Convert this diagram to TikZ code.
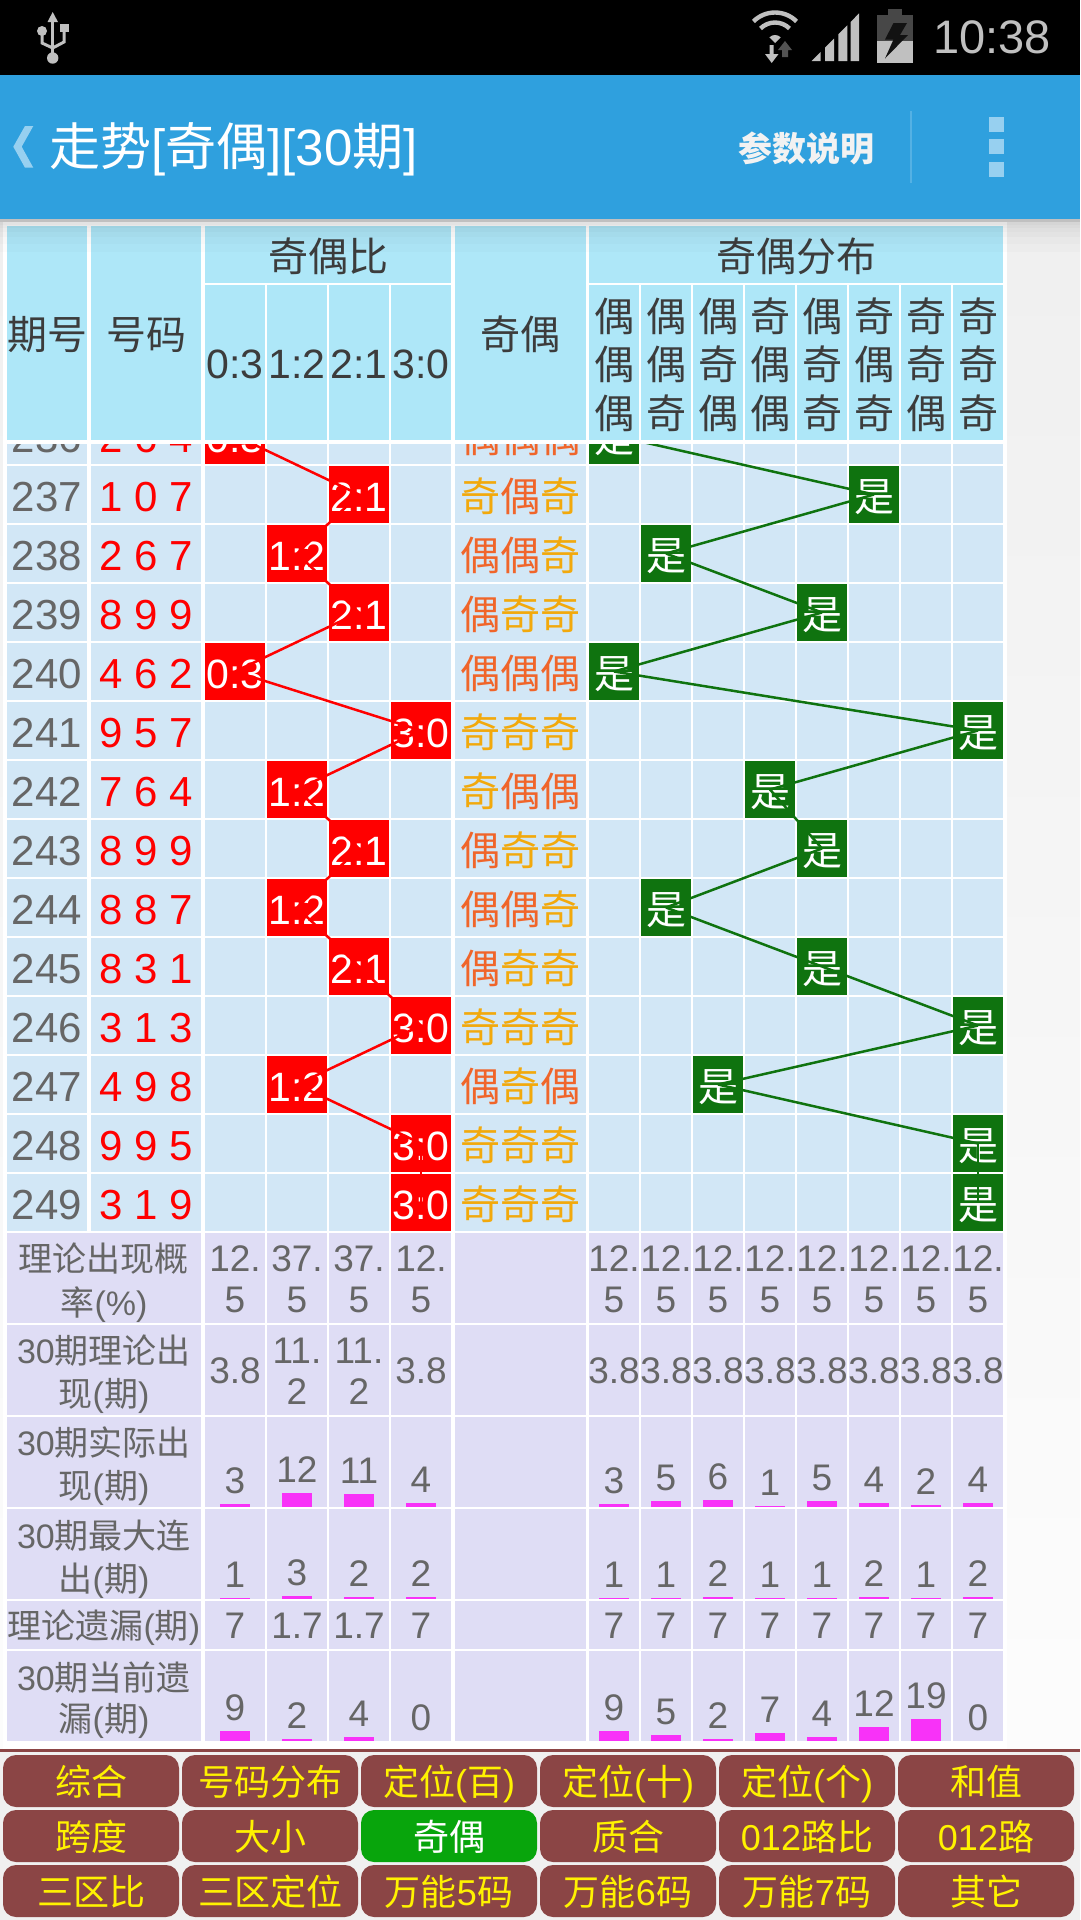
\documentclass[tikz,border=0pt]{standalone}
\usepackage{fontspec}
\setmainfont{Liberation Sans}
\newfontfamily\cjk{Noto Sans CJK SC}
\newcommand\Z[1]{{\cjk #1}}
\definecolor{oddc}{HTML}{F2A90C}
\definecolor{evenc}{HTML}{F0652A}
\definecolor{barblue}{HTML}{2FA0DE}
\definecolor{headc}{HTML}{AEE7F8}
\definecolor{datac}{HTML}{D2E7F6}
\definecolor{statc}{HTML}{DFDDF5}
\definecolor{greenc}{HTML}{0F730F}
\definecolor{magc}{HTML}{F832F8}
\definecolor{btnc}{HTML}{8B4545}
\definecolor{btnon}{HTML}{08A50C}
\definecolor{grayt}{HTML}{666666}
\definecolor{headt}{HTML}{3C3C3C}
\definecolor{iconc}{HTML}{C0C0C0}
\definecolor{pale}{HTML}{97D0F0}
\newcommand\JI{\textcolor{oddc}{\cjk 奇}}
\newcommand\OU{\textcolor{evenc}{\cjk 偶}}
\newcommand\cellbox[8]{%
  \pgfmathsetmacro\cbh{#6-#4}\pgfmathsetmacro\cbd{#5-#6}%
  \pgfmathsetmacro\cbw{#3-#2}\pgfmathsetmacro\cbc{(#2+#3)/2}\pgfmathsetmacro\cbm{(#4+#5)/2}%
  \node[#7,inner sep=0pt,outer sep=0pt,minimum width=\cbw pt,text height=\cbh pt,text depth=\cbd pt] (#1) at (\cbc,\cbm) {#8};}
\newcommand\tline[5]{\node[#4,anchor=base,inner sep=0pt] (#1) at (#2,#3) {#5};}
\newcommand\statbar[6]{% name,x,bottom,height,value,unused
  \ifdim #4pt>0pt \fill[magc] (#2-15,#3-#4) rectangle (#2+15,#3);\fi
  \tline{#1}{#2}{#3-#4-10.5}{stat}{#5}}
\tikzset{
  f40/.style={font=\fontsize{40}{48}\selectfont},
  f42/.style={font=\fontsize{42}{48}\selectfont},
  f41/.style={font=\fontsize{41}{48}\selectfont},
  stat/.style={font=\fontsize{37}{42}\selectfont,text=grayt},
  statlab/.style={font=\fontsize{34}{40}\selectfont,text=grayt},
  head/.style={f40,text=headt},
  headfill/.style={head,fill=headc},
  redline/.style={draw=red,line width=2.5pt},
  greenline/.style={draw=greenc,line width=2.5pt},
  btn/.style={rounded corners=13pt,font=\fontsize{36}{42}\selectfont,text=yellow,fill=btnc},
  btnsel/.style={btn,text=white,fill=btnon},
}
\begin{document}
\begin{tikzpicture}[x=1pt,y=-1pt]
\useasboundingbox (0,0) rectangle (1080,1920);
% page
\shade[top color=black!6,bottom color=black!1] (0,219) rectangle (1080,1752);
\fill[white] (3,222) rectangle (1007,1749);
\fill[black] (0,0) rectangle (1080,75);
\fill[barblue] (0,75) rectangle (1080,219);
% usb icon
\begin{scope}[iconc]
\fill (52.7,12) -- (58,22) -- (47.5,22) -- cycle;
\fill (51.2,20) rectangle (54.2,54);
\fill (52.7,58) circle (5.7);
\fill (42,31) circle (5);
\fill (60,23.5) rectangle (68.5,32);
\draw[line width=3pt] (42,33) -- (42,43) -- (52.7,48);
\draw[line width=3pt] (64,30) -- (64,42) -- (52.7,48);
\end{scope}
% wifi
\begin{scope}[shift={(775,43)},y=1pt,iconc]
\draw[line width=4.4pt] (45:30.5) arc (45:135:30.5);
\draw[line width=4.4pt] (45:20.5) arc (45:135:20.5);
\fill (0,0) -- (45:8) arc (45:135:8) -- cycle;
\end{scope}
\fill[black!68] (785,41) -- (792,50) -- (788,50) -- (788,57) -- (782,57) -- (782,50) -- (778,50) -- cycle;
\fill[iconc] (771.7,63) -- (778.5,54) -- (773.7,54) -- (773.7,45) -- (769.7,45) -- (769.7,54) -- (765,54) -- cycle;
% signal
\fill[iconc] (811.7,61) -- (820.7,52) -- (820.7,61) -- cycle;
\fill[iconc] (825,61) -- (825,47.6) -- (834,38.7) -- (834,61) -- cycle;
\fill[iconc] (838.3,61) -- (838.3,34.4) -- (847.3,25.4) -- (847.3,61) -- cycle;
\fill[iconc] (850.7,61) -- (850.7,22) -- (859,13.3) -- (859,61) -- cycle;
% battery
\fill[black!72] (887.7,9.3) rectangle (902.3,15);
\fill[black!72] (877.3,15) rectangle (913,40.7);
\fill[iconc] (877.3,40.7) rectangle (913,62.7);
\fill[black!93] (893.5,23) -- (907,23) -- (900,35) -- (908,35) -- (885,58.5) -- (893.5,39.5) -- (885,39.5) -- cycle;
\node[anchor=base west,inner sep=0pt,font=\fontsize{47}{50}\selectfont,text=iconc] (clock) at (933,53) {10:38};
% action bar
\fill[pale] (25,126) -- (33.3,126) -- (21.7,146.7) -- (33.3,167.7) -- (25,167.7) -- (13.3,146.7) -- cycle;
\node[anchor=base west,inner sep=0pt,font=\fontsize{51}{54}\selectfont,text=white] (title) at (49,165) {\Z{走势}[\Z{奇偶}][30\Z{期}]};
\node[anchor=base west,inner sep=0pt,font=\cjk\bfseries\fontsize{34}{40}\selectfont,text=white!95!black] (params) at (738,161) {参数说明};
\fill[barblue!82!white] (910,111) rectangle (912,182.7);
\fill[pale] (989,116.7) rectangle (1004,131.7);
\fill[pale] (989,139) rectangle (1004,154);
\fill[pale] (989,161.7) rectangle (1004,176.7);
% data rows: cell backgrounds
\foreach \n in {236,...,249}{
  \pgfmathsetmacro\ty{466+59*(\n-237)}
  \foreach \a/\b in {7/87,91/201,205/265,267/327,329/389,391/451,455/585.5,589/639,641/691,693/743,745/795,797/847,849/899,901/951,953/1003}
    \fill[datac] (\a,\ty) rectangle (\b,\ty+57);
}
% data rows: contents
\foreach \n/\d/\rc/\rl/\t/\gc in {
  236/2 6 4/0/0:3/\OU\OU\OU/0,
  237/1 0 7/2/2:1/\JI\OU\JI/5,
  238/2 6 7/1/1:2/\OU\OU\JI/1,
  239/8 9 9/2/2:1/\OU\JI\JI/4,
  240/4 6 2/0/0:3/\OU\OU\OU/0,
  241/9 5 7/3/3:0/\JI\JI\JI/7,
  242/7 6 4/1/1:2/\JI\OU\OU/3,
  243/8 9 9/2/2:1/\OU\JI\JI/4,
  244/8 8 7/1/1:2/\OU\OU\JI/1,
  245/8 3 1/2/2:1/\OU\JI\JI/4,
  246/3 1 3/3/3:0/\JI\JI\JI/7,
  247/4 9 8/1/1:2/\OU\JI\OU/2,
  248/9 9 5/3/3:0/\JI\JI\JI/7,
  249/3 1 9/3/3:0/\JI\JI\JI/7}{
  \pgfmathsetmacro\ty{466+59*(\n-237)}
  \pgfmathsetmacro\tb{\ty+57}
  \pgfmathsetmacro\tbase{\ty+45}
  \cellbox{p\n}{7}{87}{\ty}{\tb}{\tbase}{f42,text=grayt}{\n}
  \cellbox{d\n}{91}{201}{\ty}{\tb}{\tbase}{f42,text=red}{\d}
  \pgfmathsetmacro\rxa{205+62*\rc}\pgfmathsetmacro\rxb{\rxa+60}
  \cellbox{r\n}{\rxa}{\rxb}{\ty}{\tb}{\tbase}{f41,text=white,fill=red}{\rl}
  \cellbox{t\n}{455}{585.5}{\ty}{\tb}{\tbase}{f40}{\t}
  \pgfmathsetmacro\gxa{589+52*\gc}\pgfmathsetmacro\gxb{\gxa+50}
  \cellbox{g\n}{\gxa}{\gxb}{\ty}{\tb}{\tbase}{f40,text=white,fill=greenc}{\Z{是}}
}
% connectors
\foreach \a/\b in {236/237,237/238,238/239,239/240,240/241,241/242,242/243,243/244,244/245,245/246,246/247,247/248,248/249}{
  \draw[redline] (r\a.center) -- (r\b.center);
  \draw[greenline] (g\a.center) -- (g\b.center);
}
% header
\fill[white] (3,222) rectangle (1007,444);
\cellbox{hqi}{7}{87}{226}{440}{349}{headfill}{\Z{期号}}
\cellbox{hhao}{91}{201}{226}{440}{349}{headfill}{\Z{号码}}
\cellbox{hbi}{205}{451}{226}{283}{271}{headfill}{\Z{奇偶比}}
\foreach \a/\b/\s [count=\i] in {205/265/0:3,267/327/1:2,329/389/2:1,391/451/3:0}
  \cellbox{hr\i}{\a}{\b}{285}{440}{378}{headfill,f41}{\s};
\cellbox{hjo}{455}{585.5}{226}{440}{349}{headfill}{\Z{奇偶}}
\cellbox{hfb}{589}{1003}{226}{283}{271}{headfill}{\Z{奇偶分布}}
\foreach \a/\p/\q/\r [count=\i] in {589/偶/偶/偶,641/偶/偶/奇,693/偶/奇/偶,745/奇/偶/偶,797/偶/奇/奇,849/奇/偶/奇,901/奇/奇/偶,953/奇/奇/奇}{
  \pgfmathsetmacro\ab{\a+50}\pgfmathsetmacro\ac{\a+25}
  \fill[headc] (\a,285) rectangle (\ab,440);
  \tline{hp\i}{\ac}{331}{head}{\Z{\p}}
  \tline{hq\i}{\ac}{379.5}{head}{\Z{\q}}
  \tline{hs\i}{\ac}{428}{head}{\Z{\r}}
}
% shadow under the action bar
\foreach \ya/\yb/\op in {219/222/.20,222/225/.11,225/228/.09,228/232/.07,232/237/.05,237/244/.03,244/252/.015}
  \fill[black,fill opacity=\op] (0,\ya) rectangle (1080,\yb);
% statistics rows
\foreach \ta/\tb in {1233/1323,1325/1415,1417/1507,1509/1599,1601/1649,1651/1741}{
  \foreach \a/\b in {7/201,205/265,267/327,329/389,391/451,455/585.5,589/639,641/691,693/743,745/795,797/847,849/899,901/951,953/1003}
    \fill[statc] (\a,\ta) rectangle (\b,\tb);
}
\tline{l1a}{104}{1271}{statlab}{\Z{理论出现概}}
\tline{l1b}{104}{1315}{statlab}{\Z{率}(\%)}
\tline{l2a}{104}{1363}{statlab}{30\Z{期理论出}}
\tline{l2b}{104}{1406}{statlab}{\Z{现}(\Z{期})}
\tline{l3a}{104}{1455}{statlab}{30\Z{期实际出}}
\tline{l3b}{104}{1498}{statlab}{\Z{现}(\Z{期})}
\tline{l4a}{104}{1548}{statlab}{30\Z{期最大连}}
\tline{l4b}{104}{1591}{statlab}{\Z{出}(\Z{期})}
\tline{l5a}{104}{1638}{statlab}{\Z{理论遗漏}(\Z{期})}
\tline{l6a}{104}{1690}{statlab}{30\Z{期当前遗}}
\tline{l6b}{104}{1731}{statlab}{\Z{漏}(\Z{期})}
% probability
\foreach \x/\u/\v [count=\i] in {235/12./5,297/37./5,359/37./5,421/12./5,614/12./5,666/12./5,718/12./5,770/12./5,822/12./5,874/12./5,926/12./5,978/12./5}{
  \tline{sa\i}{\x}{1271}{stat}{\u}
  \tline{sb\i}{\x}{1312}{stat}{\v}
}
% theoretical appearance
\foreach \x/\u [count=\i] in {235/3.8,421/3.8,614/3.8,666/3.8,718/3.8,770/3.8,822/3.8,874/3.8,926/3.8,978/3.8}
  \tline{sc\i}{\x}{1383}{stat}{\u};
\foreach \x [count=\i] in {297,359}{
  \tline{sd\i}{\x}{1363}{stat}{11.}
  \tline{se\i}{\x}{1404}{stat}{2}
}
% actual appearance
\foreach \x/\h/\v [count=\i] in {235/3/3,297/14/12,359/13/11,421/4/4,614/3/3,666/6/5,718/7/6,770/1/1,822/6/5,874/4/4,926/2/2,978/4/4}
  \statbar{sf\i}{\x}{1507}{\h}{\v}{};
% longest run
\foreach \x/\h/\v [count=\i] in {235/1/1,297/3/3,359/2/2,421/2/2,614/1/1,666/1/1,718/2/2,770/1/1,822/1/1,874/2/2,926/1/1,978/2/2}
  \statbar{sg\i}{\x}{1599}{\h}{\v}{};
% theoretical omission
\foreach \x/\v [count=\i] in {235/7,297/1.7,359/1.7,421/7,614/7,666/7,718/7,770/7,822/7,874/7,926/7,978/7}
  \tline{sh\i}{\x}{1638}{stat}{\v};
% current omission
\foreach \x/\h/\v [count=\i] in {235/10/9,297/2/2,359/4/4,421/0/0,614/10/9,666/6/5,718/2/2,770/8/7,822/4/4,874/14/12,926/22/19,978/0/0}
  \statbar{si\i}{\x}{1741}{\h}{\v}{};
% bottom panel
\fill[black!6] (0,1752) rectangle (1080,1920);
\fill[btnc] (0,1749) rectangle (1080,1752);
\foreach \c/\y/\s/\st [count=\i] in {
  0/0/\Z{综合}/btn, 1/0/\Z{号码分布}/btn, 2/0/\Z{定位}(\Z{百})/btn, 3/0/\Z{定位}(\Z{十})/btn, 4/0/\Z{定位}(\Z{个})/btn, 5/0/\Z{和值}/btn,
  0/1/\Z{跨度}/btn, 1/1/\Z{大小}/btn, 2/1/\Z{奇偶}/btnsel, 3/1/\Z{质合}/btn, 4/1/012\Z{路比}/btn, 5/1/012\Z{路}/btn,
  0/2/\Z{三区比}/btn, 1/2/\Z{三区定位}/btn, 2/2/\Z{万能}5\Z{码}/btn, 3/2/\Z{万能}6\Z{码}/btn, 4/2/\Z{万能}7\Z{码}/btn, 5/2/\Z{其它}/btn}{
  \pgfmathsetmacro\bxa{3+179*\c}\pgfmathsetmacro\bxb{\bxa+176}
  \pgfmathsetmacro\bya{1755+55*\y}\pgfmathsetmacro\byb{\bya+52}\pgfmathsetmacro\byc{\bya+40}
  \cellbox{b\i}{\bxa}{\bxb}{\bya}{\byb}{\byc}{\st}{\s}
}
\end{tikzpicture}
\end{document}
